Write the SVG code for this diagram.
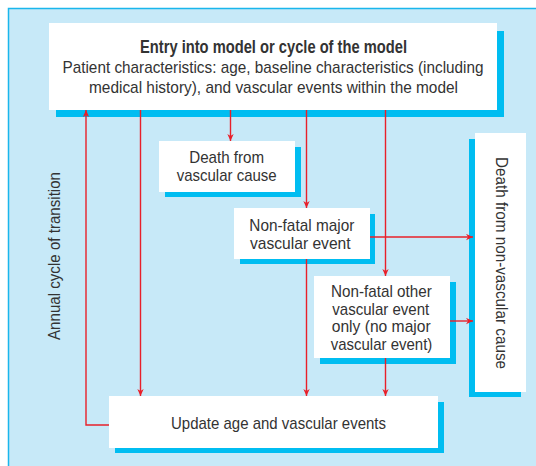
<svg xmlns="http://www.w3.org/2000/svg" width="536" height="466" viewBox="0 0 536 466">
<defs>
<style>
.bg{fill:#c7e9f8;stroke:#1ab6ec;stroke-width:1.5}
.sh{fill:#00bdf1}
.bx{fill:#ffffff}
.t{font-family:"Liberation Sans",Arial,sans-serif;font-size:17px;fill:#333333;text-anchor:middle}
.b{font-weight:bold;font-size:17.5px}
.c{fill:none;stroke:#e8202a;stroke-width:1.4}
</style>
<marker id="ah" viewBox="0 0 10 10" refX="10" refY="5" markerWidth="7" markerHeight="7" markerUnits="userSpaceOnUse" orient="auto">
<path d="M0,0.5 L10,5 L0,9.5 L3,5 Z" fill="#e8202a"/>
</marker>
</defs>
<rect class="bg" x="8.5" y="8.5" width="540" height="470"/>

<g id="entry">
<rect class="sh" x="56" y="31" width="448" height="86"/>
<rect class="bx" x="49" y="23" width="448" height="87"/>
<text class="t b" x="273.5" y="52.7" textLength="267" lengthAdjust="spacingAndGlyphs">Entry into model or cycle of the model</text>
<text class="t" x="273" y="73.3" textLength="421" lengthAdjust="spacingAndGlyphs">Patient characteristics: age, baseline characteristics (including</text>
<text class="t" x="273.5" y="93.3" textLength="369" lengthAdjust="spacingAndGlyphs">medical history), and vascular events within the model</text>
</g>

<g id="death-vascular">
<rect class="sh" x="165" y="147" width="136" height="50"/>
<rect class="bx" x="159" y="141" width="136" height="51"/>
<text class="t" x="226.7" y="163.3" textLength="75" lengthAdjust="spacingAndGlyphs">Death from</text>
<text class="t" x="226.7" y="181" textLength="100" lengthAdjust="spacingAndGlyphs">vascular cause</text>
</g>

<g id="nonfatal-major">
<rect class="sh" x="240" y="214" width="135" height="50"/>
<rect class="bx" x="234" y="208" width="136" height="51"/>
<text class="t" x="301.8" y="231" textLength="105" lengthAdjust="spacingAndGlyphs">Non-fatal major</text>
<text class="t" x="300.3" y="248.6" textLength="100.7" lengthAdjust="spacingAndGlyphs">vascular event</text>
</g>

<g id="nonfatal-other">
<rect class="sh" x="320" y="282" width="136" height="82"/>
<rect class="bx" x="314" y="276" width="136" height="82"/>
<text class="t" x="381.4" y="297" textLength="100.7" lengthAdjust="spacingAndGlyphs">Non-fatal other</text>
<text class="t" x="380.8" y="314.6" textLength="97" lengthAdjust="spacingAndGlyphs">vascular event</text>
<text class="t" x="381.2" y="332.2" textLength="99" lengthAdjust="spacingAndGlyphs">only (no major</text>
<text class="t" x="381.5" y="349.8" textLength="101.6" lengthAdjust="spacingAndGlyphs">vascular event)</text>
</g>

<g id="death-nonvascular">
<rect class="sh" x="469" y="139" width="52" height="258"/>
<rect class="bx" x="475" y="133" width="51" height="259"/>
<text class="t" transform="translate(496,263) rotate(90)" textLength="212" lengthAdjust="spacingAndGlyphs">Death from non-vascular cause</text>
</g>

<g id="update">
<rect class="sh" x="115" y="402" width="329" height="51"/>
<rect class="bx" x="109" y="396" width="329" height="52"/>
<text class="t" x="278.5" y="429.3" textLength="215" lengthAdjust="spacingAndGlyphs">Update age and vascular events</text>
</g>

<g id="annual-label">
<text class="t" transform="translate(60,256) rotate(-90)" textLength="168" lengthAdjust="spacingAndGlyphs">Annual cycle of transition</text>
</g>

<g id="connectors">
<path class="c" d="M109,425 H86 V110" marker-end="url(#ah)"/>
<path class="c" d="M140.5,110 V396" marker-end="url(#ah)"/>
<path class="c" d="M230.5,110 V141" marker-end="url(#ah)"/>
<path class="c" d="M306.5,110 V208" marker-end="url(#ah)"/>
<path class="c" d="M306.5,259 V396" marker-end="url(#ah)"/>
<path class="c" d="M385.5,110 V276" marker-end="url(#ah)"/>
<path class="c" d="M385.5,358 V396" marker-end="url(#ah)"/>
<path class="c" d="M370,237 H473" marker-end="url(#ah)"/>
<path class="c" d="M450,321 H473" marker-end="url(#ah)"/>
</g>
</svg>
